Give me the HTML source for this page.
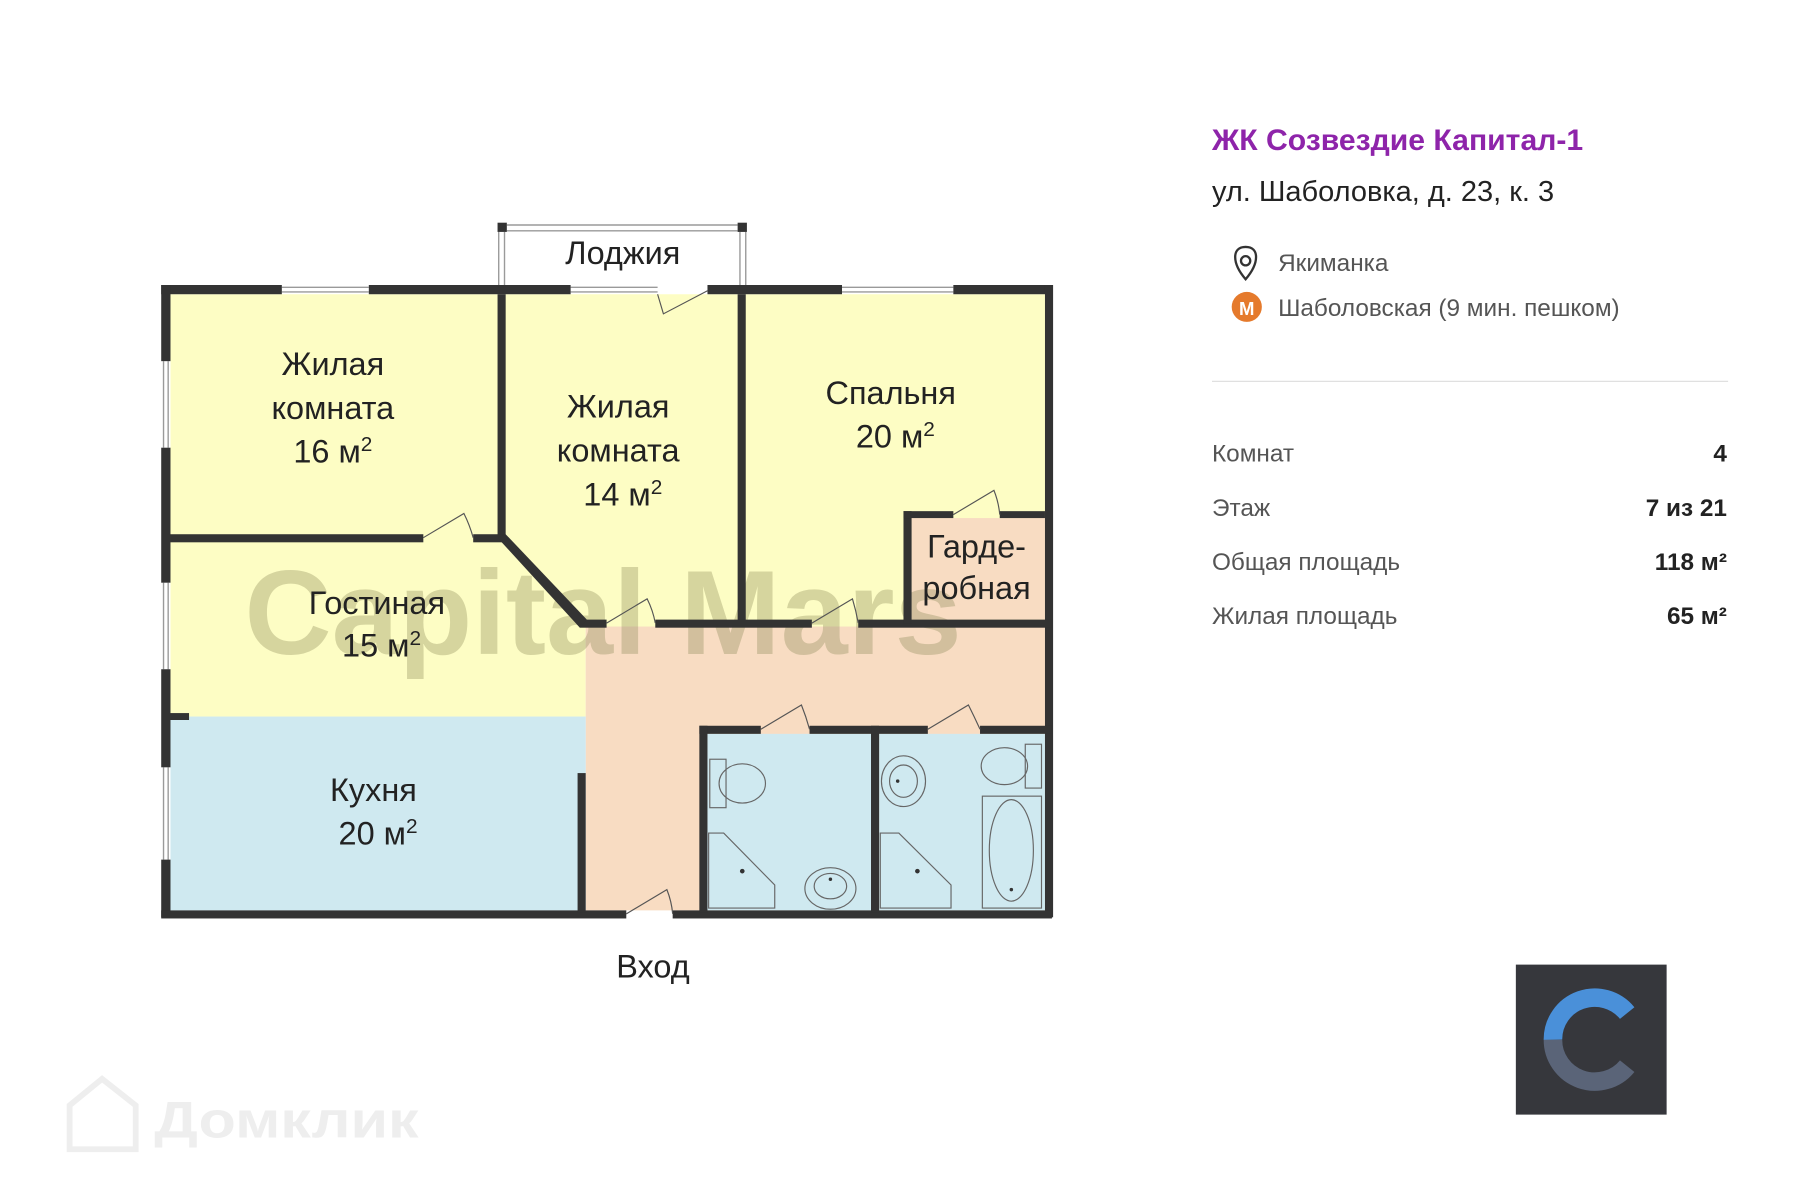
<!DOCTYPE html>
<html><head><meta charset="utf-8"><style>
html,body{margin:0;padding:0;background:#fff;}
svg{display:block;}
text{font-family:"Liberation Sans","DejaVu Sans",sans-serif;}
</style></head><body>
<svg width="1800" height="1200" viewBox="0 0 1552 1040" preserveAspectRatio="none" xmlns="http://www.w3.org/2000/svg">
<rect width="1552" height="1040" fill="#fff"/>
<!-- fills -->
<rect x="147" y="255" width="754" height="290" fill="#fdfdc4"/>
<rect x="147" y="469" width="358" height="152" fill="#fdfdc4"/>
<rect x="505" y="543" width="396" height="246" fill="#f8dcc2"/>
<rect x="786" y="449" width="115" height="88" fill="#f8dcc2"/>
<rect x="147" y="621" width="358" height="168" fill="#cfe9f0"/>
<rect x="610" y="636" width="141" height="153" fill="#cfe9f0"/>
<rect x="758" y="636" width="143" height="153" fill="#cfe9f0"/>
<!-- watermark -->
<text x="520" y="567" font-size="104" font-weight="bold" fill="#8c8a5a" fill-opacity="0.35" text-anchor="middle">Capital Mars</text>
<!-- loggia -->
<g stroke="#9a9a9a" stroke-width="1.2" fill="none">
<line x1="437" y1="195" x2="636" y2="195"/><line x1="437" y1="200" x2="636" y2="200"/>
<line x1="430" y1="201" x2="430" y2="247"/><line x1="435" y1="201" x2="435" y2="247"/>
<line x1="638" y1="201" x2="638" y2="247"/><line x1="643" y1="201" x2="643" y2="247"/>
</g>
<rect x="429" y="193" width="8" height="8" fill="#333"/><rect x="636" y="193" width="8" height="8" fill="#333"/>
<!-- windows -->
<g stroke="#9a9a9a" stroke-width="1.2">
<line x1="243" y1="249" x2="318" y2="249"/><line x1="243" y1="253" x2="318" y2="253"/>
<line x1="492" y1="249" x2="567" y2="249"/><line x1="492" y1="253" x2="567" y2="253"/>
<line x1="726" y1="249" x2="822" y2="249"/><line x1="726" y1="253" x2="822" y2="253"/>
<line x1="141" y1="313" x2="141" y2="388"/><line x1="145" y1="313" x2="145" y2="388"/>
<line x1="141" y1="505" x2="141" y2="580"/><line x1="145" y1="505" x2="145" y2="580"/>
<line x1="141" y1="665" x2="141" y2="745"/><line x1="145" y1="665" x2="145" y2="745"/>
</g>
<!-- walls -->
<g fill="#333">
<rect x="139" y="247" width="104" height="8"/>
<rect x="318" y="247" width="174" height="8"/>
<rect x="610" y="247" width="116" height="8"/>
<rect x="822" y="247" width="85" height="8"/>
<rect x="139" y="247" width="8" height="66"/>
<rect x="139" y="388" width="8" height="117"/>
<rect x="139" y="580" width="8" height="85"/>
<rect x="139" y="745" width="8" height="50"/>
<rect x="147" y="618" width="16" height="6"/>
<rect x="901" y="247" width="7" height="548"/>
<rect x="139" y="789" width="401" height="7"/>
<rect x="580" y="789" width="327" height="7"/>
<rect x="429" y="255" width="7" height="214"/>
<rect x="147" y="463" width="218" height="7"/>
<rect x="408" y="463" width="26" height="7"/>
<rect x="636" y="255" width="7" height="288"/>
<rect x="500" y="537" width="23" height="7"/>
<rect x="565" y="537" width="135" height="7"/>
<rect x="740" y="537" width="167" height="7"/>
<rect x="779" y="443" width="7" height="97"/>
<rect x="779" y="443" width="43" height="6"/>
<rect x="862" y="443" width="39" height="6"/>
<rect x="498" y="670" width="7" height="121"/>
<rect x="603" y="629" width="53" height="7"/>
<rect x="698" y="629" width="102" height="7"/>
<rect x="845" y="629" width="62" height="7"/>
<rect x="603" y="629" width="7" height="162"/>
<rect x="751" y="629" width="7" height="162"/>
</g>
<polygon points="429,466 436,463 506,537 500,544" fill="#333"/>
<!-- doors -->
<g stroke="#555" stroke-width="1" fill="none">
<path d="M567 255 L572 272 L610 252"/>
<path d="M365 466 L400 445 Q405 455 408 466"/>
<path d="M523 540 L558 519 Q563 529 565 540"/>
<path d="M700 540 L735 519 Q738 529 740 540"/>
<path d="M822 446 L857 425 Q861 435 862 446"/>
<path d="M656 632 L691 611 Q695 621 698 632"/>
<path d="M800 632 L835 611 Q840 621 845 632"/>
<path d="M540 792 L575 771 Q579 781 580 792"/>
</g>
<!-- fixtures -->
<g stroke="#666" stroke-width="1" fill="none">
<rect x="612" y="658" width="14" height="42"/><ellipse cx="640" cy="679" rx="20" ry="17"/>
<path d="M611 722 L624 722 L668 767 L668 787 L611 787 Z"/>
<ellipse cx="716" cy="770" rx="22" ry="18"/><ellipse cx="716" cy="768" rx="14" ry="11"/>
<ellipse cx="779" cy="677" rx="19" ry="22"/><ellipse cx="779" cy="677" rx="12" ry="14"/>
<rect x="884" y="645" width="14" height="38"/><ellipse cx="866" cy="664" rx="20" ry="16"/>
<path d="M759 722 L775 722 L820 767 L820 787 L759 787 Z"/>
<rect x="847" y="690" width="51" height="97"/><ellipse cx="872" cy="737" rx="19" ry="44"/>
</g>
<g fill="#333"><circle cx="640" cy="755" r="2"/><circle cx="791" cy="755" r="2"/><circle cx="716" cy="762" r="1.5"/><circle cx="872" cy="771" r="1.5"/><circle cx="774" cy="677" r="1.5"/></g>
<!-- room labels -->
<g font-size="28" fill="#222" text-anchor="middle">
<text x="537" y="229">Лоджия</text>
<text x="287" y="325">Жилая</text><text x="287" y="363">комната</text><text x="287" y="401">16 м<tspan font-size="18" dy="-10">2</tspan></text>
<text x="533" y="362">Жилая</text><text x="533" y="400">комната</text><text x="537" y="438">14 м<tspan font-size="18" dy="-10">2</tspan></text>
<text x="768" y="350">Спальня</text><text x="772" y="388">20 м<tspan font-size="18" dy="-10">2</tspan></text>
<text x="842" y="483">Гарде-</text><text x="842" y="519">робная</text>
<text x="325" y="532">Гостиная</text><text x="329" y="569">15 м<tspan font-size="18" dy="-10">2</tspan></text>
<text x="322" y="694">Кухня</text><text x="326" y="732">20 м<tspan font-size="18" dy="-10">2</tspan></text>
<text x="563" y="847">Вход</text>
</g>
<!-- domclick watermark -->
<g fill="none" stroke="#eee" stroke-width="5"><path d="M60 996 L60 958 L88 935 L117 958 L117 996 Z"/></g>
<text x="133" y="986" font-size="44" font-weight="bold" fill="#eee" textLength="228" lengthAdjust="spacingAndGlyphs">Домклик</text>
<!-- right panel -->
<text x="1045" y="130" font-size="26" font-weight="bold" fill="#8e24aa">ЖК Созвездие Капитал-1</text>
<text x="1045" y="174" font-size="25" fill="#222">ул. Шаболовка, д. 23, к. 3</text>
<path d="M1074 242 C1062 228 1062 214 1074 214 C1086 214 1086 228 1074 242 Z" fill="none" stroke="#333" stroke-width="2"/>
<circle cx="1074" cy="226" r="4" fill="none" stroke="#333" stroke-width="2"/>
<text x="1102" y="235" font-size="21" fill="#555">Якиманка</text>
<circle cx="1075" cy="266" r="13" fill="#e57a2c"/>
<text x="1075" y="273" font-size="16" font-weight="bold" fill="#fff" text-anchor="middle">M</text>
<text x="1102" y="274" font-size="21" fill="#555">Шаболовская (9 мин. пешком)</text>
<rect x="1045" y="330" width="445" height="1" fill="#ddd"/>
<g font-size="21" fill="#555"><text x="1045" y="400">Комнат</text><text x="1045" y="447">Этаж</text><text x="1045" y="494">Общая площадь</text><text x="1045" y="541">Жилая площадь</text></g>
<g font-size="21" font-weight="bold" fill="#222" text-anchor="end"><text x="1489" y="400">4</text><text x="1489" y="447">7 из 21</text><text x="1489" y="494">118 м²</text><text x="1489" y="541">65 м²</text></g>
<!-- logo -->
<rect x="1307" y="836" width="130" height="130" fill="#36373c"/>
<path d="M1339 901 A36 36 0 0 0 1403 924" fill="none" stroke="#5a6478" stroke-width="16"/>
<path d="M1403 878 A36 36 0 0 0 1339 901" fill="none" stroke="#4a90d9" stroke-width="16"/>
</svg>
</body></html>
